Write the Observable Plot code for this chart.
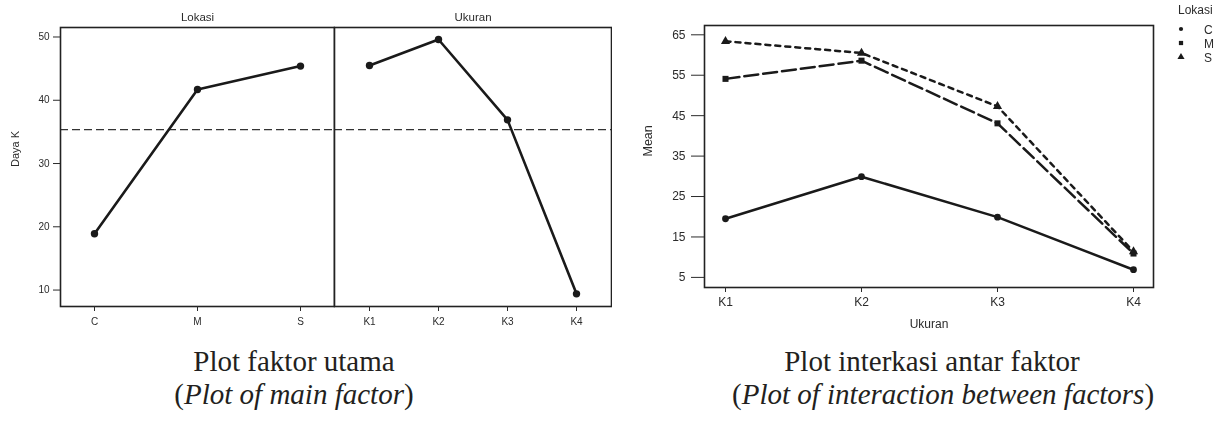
<!DOCTYPE html>
<html><head><meta charset="utf-8">
<script src="https://cdn.jsdelivr.net/npm/d3@7"></script>
<script src="https://cdn.jsdelivr.net/npm/@observablehq/plot@0.6"></script>
<style>
body{margin:0;background:#fff;width:1220px;height:425px;position:relative;overflow:hidden;font-family:"Liberation Sans",Arial,sans-serif;}
.abs{position:absolute;will-change:transform;}
.cap{position:absolute;font-family:"Liberation Serif","Times New Roman",serif;font-size:29px;line-height:33px;text-align:center;color:#231f20;white-space:nowrap;}
</style></head><body>
<div id="p1" class="abs" style="left:0;top:0"></div>
<div id="p2" class="abs" style="left:333px;top:0"></div>
<div id="p3" class="abs" style="left:630px;top:0"></div>
<div id="legend" class="abs" style="left:1173px;top:0"></div>
<div class="cap" style="left:94px;top:345px;width:400px">Plot faktor utama<br>(<i>Plot of main factor</i>)</div>
<div class="cap" style="left:732px;top:345px;width:400px">Plot interkasi antar faktor<br>(<i>Plot of interaction between factors</i>)</div>
<script>
// ---- data: main effects ----
const lokasiLevels = ["C", "M", "S"];
const lokasiMeans = [18.9, 41.7, 45.4];
const ukuranLevels = ["K1", "K2", "K3", "K4"];
const ukuranMeans = [45.5, 49.6, 36.9, 9.4];
const grandMean = 35.35;
const mainTicks = [10, 20, 30, 40, 50];
const mainTitles = ["Lokasi", "Ukuran"];
const mainYLabel = "Daya K";
// ---- data: interaction ----
const seriesNames = ["C", "M", "S"];
const meanC = [19.5, 29.9, 19.9, 6.9];
const meanM = [54.1, 58.6, 43.1, 10.9];
const meanS = [63.4, 60.5, 47.3, 11.4];
const interTicks = [5, 15, 25, 35, 45, 55, 65];
const interYLabel = "Mean";
const interXLabel = "Ukuran";
const legendTitle = "Lokasi";

const ink = "#1a1a1a";
const axisInk = "#2b2b2b";
const yDomMain = [7.4, 51.5];
const font = "Liberation Sans, Arial, sans-serif";

const mainA = lokasiLevels.map((k, i) => ({k, v: lokasiMeans[i]}));
const mainB = ukuranLevels.map((k, i) => ({k, v: ukuranMeans[i]}));

const p1 = Plot.plot({
  width: 335, height: 342,
  marginLeft: 60, marginRight: 1, marginTop: 27, marginBottom: 36,
  style: {fontFamily: font, color: axisInk, background: "transparent"},
  x: {type: "point", domain: lokasiLevels, padding: 0.324},
  y: {domain: yDomMain},
  marks: [
    Plot.ruleY([grandMean], {stroke: "#333", strokeWidth: 1.3, strokeDasharray: "8,4"}),
    Plot.line(mainA, {x: "k", y: "v", stroke: ink, strokeWidth: 2.6}),
    Plot.dot(mainA, {x: "k", y: "v", fill: ink, r: 3.7}),
    Plot.frame({stroke: "#222", strokeWidth: 1.6}),
    Plot.axisY(mainTicks, {tickSize: 7, tickPadding: 4, fontSize: 10, label: null}),
    Plot.axisX({tickSize: 5, tickPadding: 6, fontSize: 10, label: null}),
    Plot.text([mainYLabel], {text: d => d, frameAnchor: "left", dx: -45, rotate: -90, fontSize: 11}),
    Plot.text([mainTitles[0]], {text: d => d, frameAnchor: "top", lineAnchor: "middle", dy: -10, fontSize: 11.5})
  ]
});
document.getElementById("p1").appendChild(p1);

const p2 = Plot.plot({
  width: 279, height: 342,
  marginLeft: 1, marginRight: 1, marginTop: 27, marginBottom: 36,
  style: {fontFamily: font, color: axisInk, background: "transparent"},
  x: {type: "point", domain: ukuranLevels, padding: 0.5},
  y: {domain: yDomMain, axis: null},
  marks: [
    Plot.ruleY([grandMean], {stroke: "#333", strokeWidth: 1.3, strokeDasharray: "8,4"}),
    Plot.line(mainB, {x: "k", y: "v", stroke: ink, strokeWidth: 2.6}),
    Plot.dot(mainB, {x: "k", y: "v", fill: ink, r: 3.7}),
    Plot.frame({stroke: "#222", strokeWidth: 1.6}),
    Plot.axisX({tickSize: 5, tickPadding: 6, fontSize: 10, label: null}),
    Plot.text([mainTitles[1]], {text: d => d, frameAnchor: "top", lineAnchor: "middle", dy: -10, fontSize: 11.5})
  ]
});
document.getElementById("p2").appendChild(p2);

const seriesVals = [meanC, meanM, meanS];
const inter = seriesNames.flatMap((s, j) => ukuranLevels.map((k, i) => ({k, v: seriesVals[j][i], s})));
const dashes = {C: undefined, M: "14,5", S: "5,5"};

const p3 = Plot.plot({
  width: 525, height: 332,
  marginLeft: 74, marginRight: 2, marginTop: 25, marginBottom: 45,
  style: {fontFamily: font, color: axisInk, background: "transparent"},
  x: {type: "point", domain: ukuranLevels, padding: 0.146},
  y: {domain: [2.5, 67.3]},
  symbol: {domain: seriesNames, range: ["circle", "square", "triangle"]},
  marks: [
    ...seriesNames.map(s => Plot.line(inter.filter(d => d.s === s), {x: "k", y: "v", stroke: ink, strokeWidth: 2.5, strokeDasharray: dashes[s]})),
    Plot.dot(inter, {x: "k", y: "v", symbol: "s", fill: ink, r: 3.4}),
    Plot.frame({stroke: "#222", strokeWidth: 1.6}),
    Plot.axisY(interTicks, {tickSize: 13, tickPadding: 6, fontSize: 12, label: null}),
    Plot.axisX({tickSize: 5, tickPadding: 5, fontSize: 12, label: null}),
    Plot.text([interYLabel], {text: d => d, frameAnchor: "left", dx: -57, rotate: -90, fontSize: 12.5}),
    Plot.text([interXLabel], {text: d => d, frameAnchor: "bottom", lineAnchor: "middle", dy: 37, fontSize: 12})
  ]
});
document.getElementById("p3").appendChild(p3);

// ---- legend ----
const lg = d3.select("#legend").append("svg").attr("width", 50).attr("height", 70)
  .style("font-family", font).style("font-size", "12px").style("fill", axisInk);
lg.append("text").attr("x", 5).attr("y", 14).text(legendTitle);
const symTypes = [d3.symbolCircle, d3.symbolSquare, d3.symbolTriangle];
const symSizes = [14, 18, 22];
seriesNames.forEach((s, i) => {
  const y = 29 + i * 14;
  lg.append("path").attr("d", d3.symbol(symTypes[i], symSizes[i])()).attr("transform", `translate(8,${y})`).attr("fill", ink);
  lg.append("text").attr("x", 31).attr("y", y + 4.5).text(s);
});
</script>
</body></html>
